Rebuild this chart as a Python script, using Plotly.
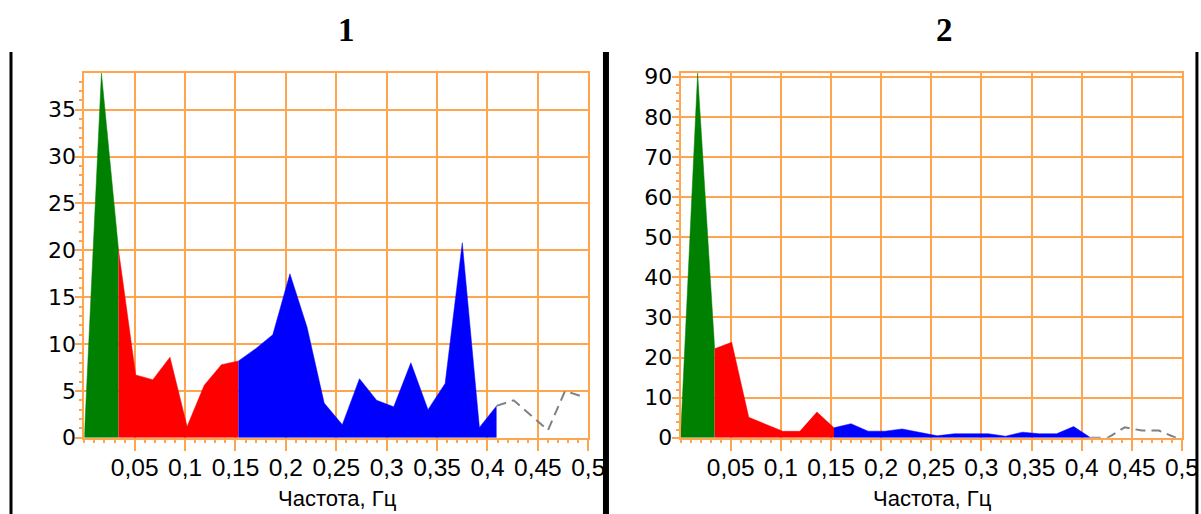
import plotly.graph_objects as go

# Target picture size and the page-to-picture mapping observed in the viewer
W, H = 1201, 514
SX, SY, OY = 0.9861, 0.961, 8.0
FW, FH = 1218, 527


def px(xr):
    """picture x (px) -> paper fraction"""
    return xr / SX / FW


def py(yr):
    """picture y (px, from top) -> paper fraction"""
    return 1 - (yr - OY) / SY / FH


# Frequency grid (Hz)
freq = [0.0, 0.017, 0.034, 0.051, 0.068, 0.085, 0.102, 0.119, 0.136, 0.153,
        0.170, 0.187, 0.204, 0.221, 0.238, 0.256, 0.273, 0.290, 0.307, 0.324,
        0.341, 0.358, 0.375, 0.392, 0.409, 0.426, 0.443, 0.460, 0.477, 0.494]

# Spectral power, panel 1
power1 = [0.0, 38.9, 20.0, 6.7, 6.2, 8.6, 1.2, 5.6, 7.8, 8.2,
          9.5, 11.0, 17.5, 11.8, 3.7, 1.4, 6.3, 4.0, 3.3, 8.0,
          3.0, 5.8, 20.8, 1.1, 3.4, 4.0, 2.4, 0.8, 5.0, 4.4]

# Spectral power, panel 2
power2 = [0.0, 90.9, 22.2, 23.8, 5.1, 3.35, 1.6, 1.6, 6.4, 2.5,
          3.5, 1.65, 1.65, 2.2, 1.4, 0.5, 1.0, 1.0, 1.0, 0.4,
          1.4, 1.0, 1.0, 2.8, 0.0, 0.0, 2.6, 1.8, 1.8, 0.0]

panel_titles = ["1", "2"]
x_title = "Частота, Гц"

# Band segments: (first index, last index) into freq
band_vlf = (0, 2)
band_lf = (2, 9)
band_hf = (9, 24)
band_rest = (24, 29)

x_tickvals = [0.05, 0.1, 0.15, 0.2, 0.25, 0.3, 0.35, 0.4, 0.45, 0.5]
x_ticktext = ["0,05", "0,1", "0,15", "0,2", "0,25", "0,3", "0,35", "0,4", "0,45", "0,5"]
y1_tickvals = [0, 5, 10, 15, 20, 25, 30, 35]
y2_tickvals = [0, 10, 20, 30, 40, 50, 60, 70, 80, 90]

ORANGE = "#FFA54F"
GREEN = "#008000"
RED = "#FF0000"
BLUE = "#0000FF"
GRAY = "#808080"

fig = go.Figure()

panels = [
    (power1, "x", "y"),
    (power2, "x2", "y2"),
]

for vals, xa, ya in panels:
    for (i0, i1), col in [(band_vlf, GREEN), (band_lf, RED), (band_hf, BLUE)]:
        fig.add_trace(go.Scatter(
            x=freq[i0:i1 + 1], y=vals[i0:i1 + 1], xaxis=xa, yaxis=ya,
            mode="lines", fill="tozeroy", fillcolor=col,
            line=dict(color=col, width=0.5), hoverinfo="skip"))
    i0, i1 = band_rest
    fig.add_trace(go.Scatter(
        x=freq[i0:i1 + 1], y=vals[i0:i1 + 1], xaxis=xa, yaxis=ya,
        mode="lines", line=dict(color=GRAY, width=2, dash="10px,6px"),
        hoverinfo="skip"))

ydom = [py(438), py(72.3)]
xdom1 = [px(84.3), px(588.3)]
xdom2 = [px(680.6), px(1182)]

XFONT = dict(family="Liberation Sans, Arial, sans-serif", size=24.5, color="black")
YFONT = dict(family="DejaVu Sans, sans-serif", size=22, color="black")


def xaxis(dom, anchor):
    return dict(domain=dom, anchor=anchor, range=[0, 0.5],
                tickvals=x_tickvals, ticktext=x_ticktext,
                ticks="outside", ticklen=11, tickwidth=2, tickcolor=ORANGE,
                ticklabelstandoff=-4,
                showgrid=True, gridcolor=ORANGE, gridwidth=2,
                showline=True, linecolor=ORANGE, linewidth=2, mirror=True,
                zeroline=False, tickfont=XFONT,
                minor=dict(dtick=0.01, ticks="outside", ticklen=3, tickwidth=2,
                           tickcolor=ORANGE, showgrid=False),
                fixedrange=True)


def yaxis(anchor, tv, vals, mdt):
    return dict(domain=ydom, anchor=anchor, range=[0, max(vals)],
                tickvals=tv, ticktext=[str(v) for v in tv],
                ticks="outside", ticklen=7, tickwidth=2, tickcolor=ORANGE,
                ticklabelstandoff=-5,
                showgrid=True, gridcolor=ORANGE, gridwidth=2,
                showline=True, linecolor=ORANGE, linewidth=2, mirror=True,
                zeroline=False, tickfont=YFONT,
                minor=dict(dtick=mdt, ticks="outside", ticklen=3, tickwidth=2,
                           tickcolor=ORANGE, showgrid=False),
                fixedrange=True)


TFONT = dict(family="Liberation Serif, Times New Roman, serif",
             size=33, color="black", weight="bold")
annotations = [
    dict(text=panel_titles[0], x=px(347), y=py(29.5), xref="paper", yref="paper",
         xanchor="center", yanchor="middle", showarrow=False, font=TFONT),
    dict(text=panel_titles[1], x=px(945), y=py(29.5), xref="paper", yref="paper",
         xanchor="center", yanchor="middle", showarrow=False, font=TFONT),
    dict(text=x_title, x=px(338), y=py(499), xref="paper", yref="paper",
         xanchor="center", yanchor="middle", showarrow=False,
         font=dict(XFONT, size=22)),
    dict(text=x_title, x=px(933), y=py(499), xref="paper", yref="paper",
         xanchor="center", yanchor="middle", showarrow=False,
         font=dict(XFONT, size=22)),
]

shapes = [
    dict(type="line", xref="paper", yref="paper", x0=px(11), x1=px(11),
         y0=0, y1=py(51), line=dict(color="black", width=3)),
    dict(type="line", xref="paper", yref="paper", x0=px(606), x1=px(606),
         y0=0, y1=py(51), line=dict(color="black", width=6)),
    dict(type="line", xref="paper", yref="paper", x0=px(1197), x1=px(1197),
         y0=0, y1=py(51), line=dict(color="black", width=3)),
]

fig.update_layout(
    width=FW, height=FH, margin=dict(l=0, r=0, t=0, b=0),
    paper_bgcolor="white", plot_bgcolor="white", showlegend=False,
    xaxis=xaxis(xdom1, "y"), yaxis=yaxis("x", y1_tickvals, power1, 1),
    xaxis2=xaxis(xdom2, "y2"), yaxis2=yaxis("x2", y2_tickvals, power2, 2),
    annotations=annotations, shapes=shapes,
)

fig.write_html("out.html")
